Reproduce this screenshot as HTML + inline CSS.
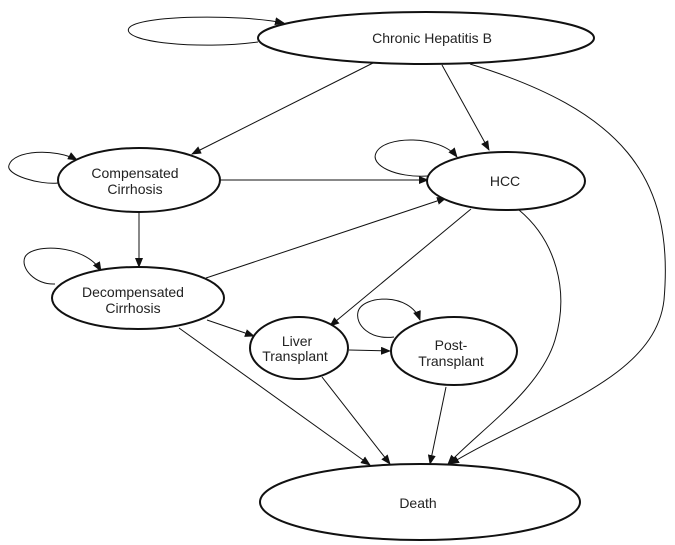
<!DOCTYPE html>
<html><head><meta charset="utf-8"><style>
html,body{margin:0;padding:0;background:#fff;}
svg{display:block;}
text{font-family:"Liberation Sans",sans-serif;font-size:14px;fill:#222;text-anchor:middle;}
</style></head><body>
<svg width="675" height="545" viewBox="0 0 675 545" xmlns="http://www.w3.org/2000/svg">
<defs>
<marker id="a" markerWidth="10" markerHeight="8" refX="9" refY="4" orient="auto" markerUnits="userSpaceOnUse">
<path d="M0,0 L10,4 L0,8 Z" fill="#111"/>
</marker>
</defs>
<g fill="none" stroke="#111" stroke-width="1">
<!-- self loops -->
<path d="M258,42 C200,50 120,42 129,28 C138,15 240,14 284,23" marker-end="url(#a)"/>
<path d="M58,183 C40,185 5,175 9,165 C14,150 55,148 77,160" marker-end="url(#a)"/>
<path d="M428,176 C395,178 370,165 376,153 C384,135 440,135 457,157" marker-end="url(#a)"/>
<path d="M55,284 C35,285 20,268 25,257 C32,243 85,244 101,271" marker-end="url(#a)"/>
<path d="M394,337 C370,340 355,325 358,312 C362,295 410,292 420,320" marker-end="url(#a)"/>
<!-- edges -->
<path d="M373,63 L192,154" marker-end="url(#a)"/>
<path d="M442,65 L489,150" marker-end="url(#a)"/>
<path d="M470,64 C620,110 675,175 664,300 C655,380 540,410 450,464" marker-end="url(#a)"/>
<path d="M220,180 L428,180" marker-end="url(#a)"/>
<path d="M139,213 L139,267" marker-end="url(#a)"/>
<path d="M206,278 L446,198" marker-end="url(#a)"/>
<path d="M471,209 L330,326" marker-end="url(#a)"/>
<path d="M519,210 C555,240 570,290 555,340 C540,390 480,430 448,464" marker-end="url(#a)"/>
<path d="M207,320 L254,336" marker-end="url(#a)"/>
<path d="M179,328 L370,465" marker-end="url(#a)"/>
<path d="M349,350 L390,351" marker-end="url(#a)"/>
<path d="M322,377 L390,464" marker-end="url(#a)"/>
<path d="M446,387 L430,464" marker-end="url(#a)"/>
</g>
<g fill="#fff" stroke="#111" stroke-width="2">
<ellipse cx="426" cy="38" rx="168" ry="26"/>
<ellipse cx="139" cy="180" rx="81" ry="32"/>
<ellipse cx="506" cy="181" rx="79" ry="29"/>
<ellipse cx="138" cy="298" rx="86" ry="31"/>
<ellipse cx="299" cy="348" rx="49" ry="31"/>
<ellipse cx="454" cy="351" rx="63" ry="34"/>
<ellipse cx="420" cy="502" rx="160" ry="38"/>
</g>
<text x="432" y="43">Chronic Hepatitis B</text>
<text x="135" y="178">Compensated</text>
<text x="135" y="194">Cirrhosis</text>
<text x="505" y="186">HCC</text>
<text x="133" y="297">Decompensated</text>
<text x="133" y="313">Cirrhosis</text>
<text x="297" y="346">Liver</text>
<text x="295" y="361">Transplant</text>
<text x="451" y="350">Post-</text>
<text x="451" y="366">Transplant</text>
<text x="418" y="508">Death</text>
</svg>
</body></html>
